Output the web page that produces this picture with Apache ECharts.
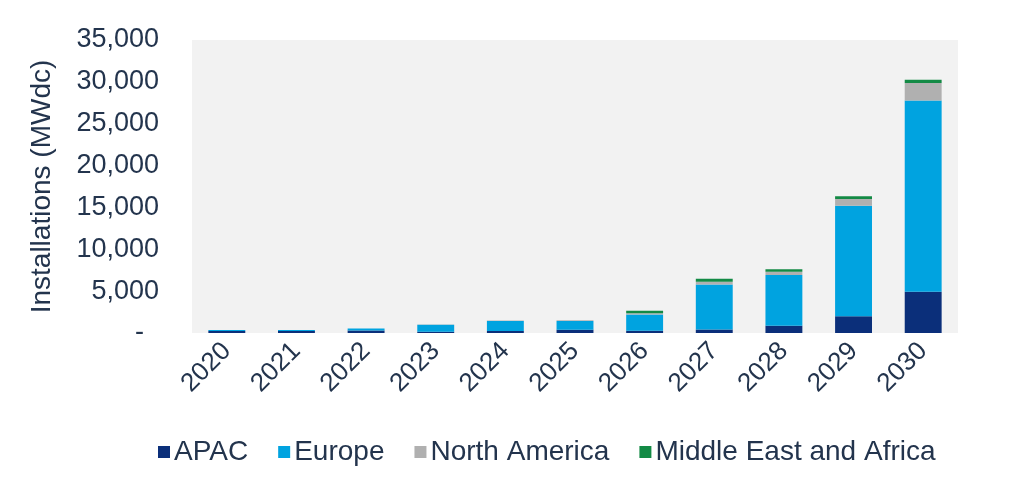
<!DOCTYPE html>
<html>
<head>
<meta charset="utf-8">
<script src="https://cdn.jsdelivr.net/npm/echarts@6/dist/echarts.min.js"></script>
<style>
html,body{margin:0;padding:0;background:#fff;}
#chart{width:1024px;height:487px;}
</style>
</head>
<body>
<div id="chart"></div>
<script>
const categories = ['2020','2021','2022','2023','2024','2025','2026','2027','2028','2029','2030'];
const apac = [230, 230, 300, 150, 240, 400, 280, 430, 880, 2000, 4930];
const europe = [120, 120, 250, 850, 1200, 1040, 1920, 5370, 6050, 13200, 22840];
const northAmerica = [0, 0, 0, 30, 60, 80, 150, 320, 400, 800, 2080];
const middleEastAfrica = [0, 0, 0, 0, 0, 0, 300, 360, 280, 330, 400];
const yTicks = [0, 5000, 10000, 15000, 20000, 25000, 30000, 35000];

const textColor = '#23344d';
const font = 'Liberation Sans, Arial, sans-serif';

const chart = echarts.init(document.getElementById('chart'));
function fmt(v){
  if (v === 0) return '-  ';
  return String(v).replace(/\B(?=(\d{3})+(?!\d))/g, ',');
}
const series = [
  {name:'APAC', data: apac, color:'#0b2f7a'},
  {name:'Europe', data: europe, color:'#00a3e0'},
  {name:'North America', data: northAmerica, color:'#b0b0b0'},
  {name:'Middle East and Africa', data: middleEastAfrica, color:'#138a45'}
].map(s => ({
  name: s.name, type: 'bar', stack: 'total', data: s.data,
  barWidth: '53%', itemStyle: {color: s.color}
}));

chart.setOption({
  animation: false,
  textStyle: {fontFamily: font, color: textColor},
  grid: {left: 192, right: 66, top: 40, bottom: 154, show: true, backgroundColor: '#f2f2f2', borderWidth: 0},
  legend: {
    left: 153, top: 433, icon: 'rect', itemWidth: 12, itemHeight: 12, itemGap: 30,
    textStyle: {fontSize: 28, color: textColor, fontFamily: font, padding: [0,0,0,-1]},
    data: ['APAC','Europe','North America','Middle East and Africa']
  },
  xAxis: {
    type: 'category', data: categories,
    axisLine: {show: false}, axisTick: {show: false},
    axisLabel: {rotate: 45, fontSize: 26, color: textColor, fontFamily: font, margin: 14}
  },
  yAxis: {
    type: 'value', min: yTicks[0], max: yTicks[yTicks.length-1], interval: yTicks[1]-yTicks[0],
    name: 'Installations (MWdc)', nameLocation: 'middle', nameGap: 136,
    nameTextStyle: {fontSize: 28, color: textColor, fontFamily: font},
    axisLine: {show: false}, axisTick: {show: false}, splitLine: {show: false},
    axisLabel: {fontSize: 27, color: textColor, fontFamily: font, margin: 33, formatter: fmt}
  },
  series: series
});
</script>
</body>
</html>
